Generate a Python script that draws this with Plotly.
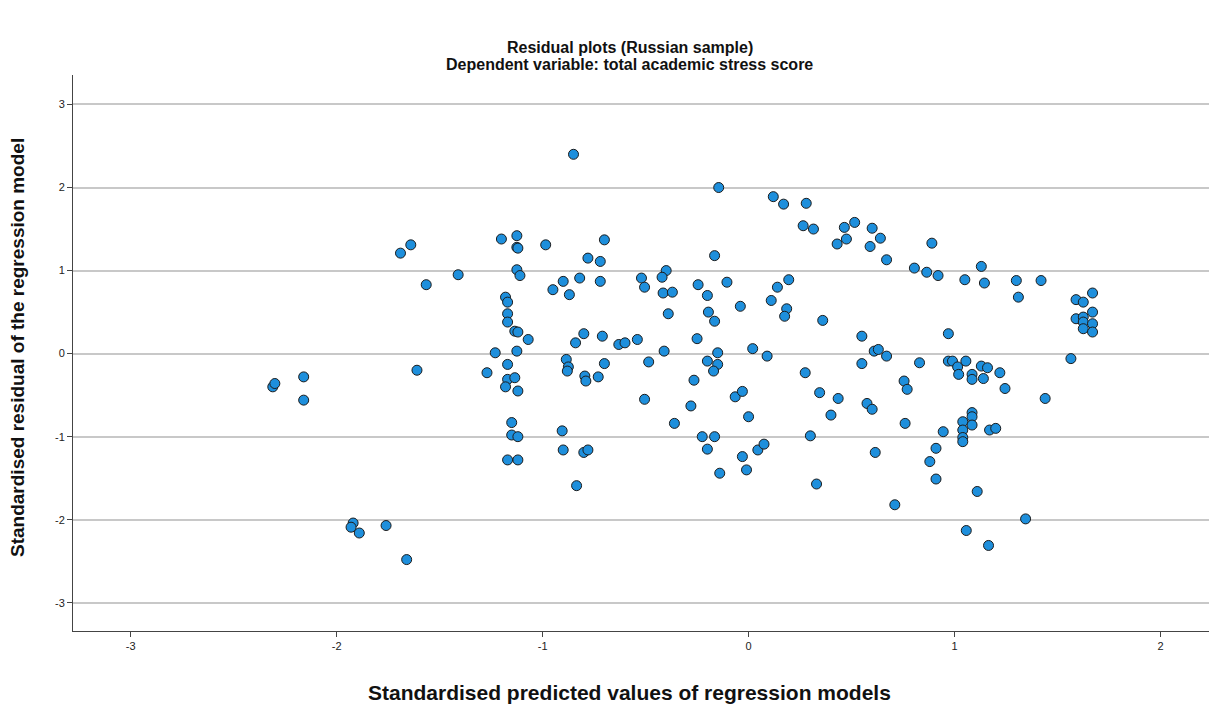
import plotly.graph_objects as go

# standardised predicted values (x) and standardised residuals (y)
pred = [
    -1.69, -1.64, -1.565, -1.41,
    -2.31, -2.30, -2.16, -2.16, -1.61, -1.92, -1.93, -1.89, -1.76, -1.66,
    -0.85, -1.20, -1.125, -1.125, -1.12, -0.985, -0.70, -0.78, -0.72, -1.125,
    -1.11, -0.95, -0.90, -0.87, -0.82, -0.72, -1.18, -1.17, -1.17, -1.17,
    -1.135, -1.12, -1.07, -1.23, -1.125, -0.80, -0.84, -0.71, -0.63, -0.60,
    -1.17, -1.27, -1.17, -1.135, -1.18, -1.12, -0.885, -0.875, -0.88, -0.70,
    -0.795, -0.79, -0.73, -1.15, -1.15, -1.12, -1.17, -1.12, -0.905, -0.90,
    -0.80, -0.78, -0.835,
    -0.145, 0.12, 0.17, -0.165, -0.40, -0.42, -0.52, -0.505, -0.415, -0.37,
    -0.245, -0.20, -0.105, -0.39, -0.195, -0.165, -0.04, 0.14, 0.11, 0.195,
    0.185, 0.175, -0.54, -0.25, -0.41, -0.15, 0.02, 0.09,
    -0.485, -0.20, -0.15, -0.17, -0.265, -0.505, -0.28, -0.065, -0.03, 0.00,
    -0.36, -0.225, -0.165, -0.20, -0.14, 0.045, 0.075, -0.03, -0.01,
    0.28, 0.265, 0.315, 0.465, 0.515, 0.43, 0.475, 0.60, 0.64, 0.59,
    0.67, 0.89, 0.805, 0.865, 0.92, 0.36, 0.55, 0.61, 0.63, 0.67, 0.97,
    0.55, 0.83, 0.97, 0.275, 0.345, 0.435, 0.40, 0.575, 0.60, 0.755,
    0.77, 0.76, 0.30, 0.615, 0.945, 0.91, 0.88, 0.91, 0.33, 0.71,
    1.13, 1.05, 1.145, 1.30, 1.42, 1.31,
    1.59, 1.625, 1.67, 1.59, 1.625, 1.625, 1.67, 1.67, 1.625, 1.67, 1.565,
    0.99, 1.055, 1.015, 1.02, 1.085, 1.085, 1.13, 1.16, 1.14, 1.22, 1.245,
    1.44, 1.04, 1.04, 1.04, 1.04, 1.085, 1.085, 1.085, 1.17, 1.20, 1.11,
    1.345, 1.057, 1.165,
]
resid = [
    1.21, 1.31, 0.83, 0.95,
    -0.40, -0.36, -0.28, -0.56, -0.20, -2.04, -2.09, -2.16, -2.07, -2.48,
    2.40, 1.38, 1.42, 1.28, 1.27, 1.31, 1.37, 1.15, 1.11, 1.01,
    0.94, 0.77, 0.87, 0.71, 0.91, 0.87, 0.68, 0.62, 0.48, 0.38,
    0.27, 0.26, 0.17, 0.01, 0.03, 0.24, 0.13, 0.21, 0.11, 0.13,
    -0.13, -0.23, -0.31, -0.29, -0.40, -0.45, -0.07, -0.16, -0.21, -0.12,
    -0.27, -0.33, -0.28, -0.83, -0.98, -1.00, -1.28, -1.28, -0.93, -1.16,
    -1.19, -1.16, -1.59,
    2.00, 1.89, 1.80, 1.18, 1.00, 0.92, 0.91, 0.80, 0.73, 0.74,
    0.83, 0.70, 0.86, 0.48, 0.50, 0.39, 0.57, 0.80, 0.64, 0.89,
    0.54, 0.45, 0.17, 0.18, 0.03, 0.01, 0.06, -0.03,
    -0.10, -0.09, -0.13, -0.21, -0.32, -0.55, -0.63, -0.52, -0.455, -0.76,
    -0.84, -1.00, -1.00, -1.15, -1.44, -1.16, -1.09, -1.24, -1.40,
    1.81, 1.54, 1.50, 1.52, 1.58, 1.32, 1.38, 1.51, 1.39, 1.29,
    1.13, 1.33, 1.03, 0.98, 0.94, 0.40, 0.21, 0.03, 0.05, -0.03, 0.24,
    -0.12, -0.11, -0.09, -0.23, -0.47, -0.54, -0.74, -0.60, -0.67, -0.33,
    -0.43, -0.84, -0.99, -1.19, -0.94, -1.14, -1.30, -1.51, -1.57, -1.82,
    1.05, 0.89, 0.85, 0.88, 0.88, 0.68,
    0.65, 0.62, 0.73, 0.42, 0.44, 0.38, 0.50, 0.36, 0.30, 0.26, -0.06,
    -0.09, -0.09, -0.16, -0.25, -0.25, -0.31, -0.15, -0.17, -0.30, -0.23, -0.42,
    -0.54, -0.82, -0.92, -1.01, -1.06, -0.71, -0.76, -0.86, -0.92, -0.90, -1.66,
    -1.99, -2.13, -2.31,
]

x_ticks = [-3, -2, -1, 0, 1, 2]
y_ticks = [-3, -2, -1, 0, 1, 2, 3]

font_family = 'Liberation Sans, Arial, sans-serif'
title_color = '#111111'

trace = go.Scatter(
    x=pred, y=resid, mode='markers',
    marker={'size': 10, 'color': '#1e8fdc',
            'line': {'color': '#1c1c1c', 'width': 1}},
    hoverinfo='x+y',
)

# the page body keeps its default 8px margin, so the figure is 8px smaller
layout = go.Layout(
    width=1209, height=696,
    margin={'l': 65, 'r': 5, 't': 67, 'b': 73},
    paper_bgcolor='white', plot_bgcolor='white',
    showlegend=False,
    font={'family': font_family, 'color': '#222222'},
    xaxis={
        'range': [-3.28, 2.25], 'tickvals': x_ticks, 'ticktext': [str(v) for v in x_ticks],
        'showgrid': False, 'zeroline': False, 'automargin': False,
        'showline': True, 'linecolor': '#444444', 'linewidth': 1,
        'ticks': 'outside', 'ticklen': 5, 'tickcolor': '#444444',
        'tickfont': {'size': 11, 'color': '#222222'},
    },
    yaxis={
        'range': [-3.34, 3.355], 'tickvals': y_ticks, 'ticktext': [str(v) for v in y_ticks],
        'showgrid': True, 'gridcolor': '#c8c8c8', 'gridwidth': 1.5,
        'zeroline': False, 'automargin': False,
        'showline': True, 'linecolor': '#444444', 'linewidth': 1,
        'ticks': 'outside', 'ticklen': 5, 'tickcolor': '#444444',
        'tickfont': {'size': 11, 'color': '#222222'},
    },
    annotations=[
        {'text': '<b>Residual plots (Russian sample)</b>', 'xref': 'paper', 'yref': 'paper',
         'x': 0.489, 'y': 1.0, 'yanchor': 'middle', 'yshift': 28, 'showarrow': False,
         'font': {'size': 16, 'color': title_color}},
        {'text': '<b>Dependent variable: total academic stress score</b>', 'xref': 'paper', 'yref': 'paper',
         'x': 0.489, 'y': 1.0, 'yanchor': 'middle', 'yshift': 11, 'showarrow': False,
         'font': {'size': 16, 'color': title_color}},
        {'text': '<b>Standardised predicted values of regression models</b>', 'xref': 'paper', 'yref': 'paper',
         'x': 0.489, 'y': 0.0, 'yanchor': 'middle', 'yshift': -61, 'showarrow': False,
         'font': {'size': 21, 'color': title_color}},
        {'text': '<b>Standardised residual of the regression model</b>', 'xref': 'paper', 'yref': 'paper',
         'x': 0.0, 'y': 0.509, 'xanchor': 'center', 'xshift': -55, 'textangle': -90, 'showarrow': False,
         'font': {'size': 19, 'color': title_color}},
    ],
)

fig = go.Figure(data=[trace], layout=layout)
fig.write_html("out.html")
